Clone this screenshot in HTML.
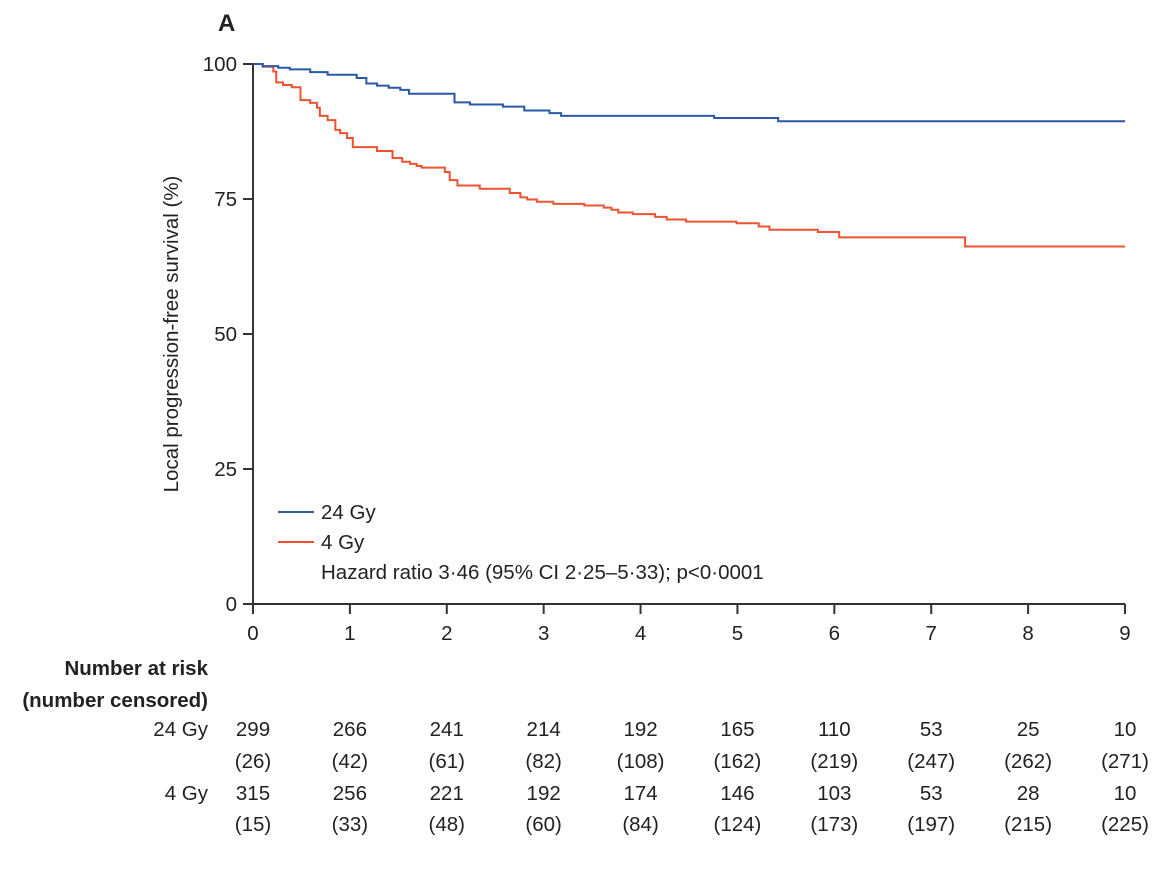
<!DOCTYPE html>
<html><head><meta charset="utf-8">
<style>
body{margin:0;background:#fff;}
svg text{font-family:"Liberation Sans",sans-serif;fill:#222;}
</style></head>
<body>
<svg id="chart" width="1170" height="868" viewBox="0 0 1170 868" xmlns="http://www.w3.org/2000/svg">
<text x="218" y="31" font-size="24" font-weight="bold">A</text>
<text transform="translate(178,334) rotate(-90)" text-anchor="middle" font-size="20.5">Local progression-free survival (%)</text>
<g id="axes"></g>
<g id="series"></g>
<g>
<line x1="278" y1="512" x2="314" y2="512" stroke="#2a59a6" stroke-width="2"/>
<text x="321" y="519" font-size="20.5">24 Gy</text>
<line x1="278" y1="542" x2="314" y2="542" stroke="#ee5230" stroke-width="2"/>
<text x="321" y="549" font-size="20.5">4 Gy</text>
<text x="321" y="579" font-size="20.5">Hazard ratio 3·46 (95% CI 2·25–5·33); p&lt;0·0001</text>
</g>
<text x="208" y="675" text-anchor="end" font-size="20.5" font-weight="bold">Number at risk</text>
<text x="208" y="707" text-anchor="end" font-size="20.5" font-weight="bold">(number censored)</text>
<g id="risk"></g>
</svg>
<script>
const xTicks=[0,1,2,3,4,5,6,7,8,9];
const yTicks=[0,25,50,75,100];
const yTickLabels=["0","25","50","75","100"];
const blueT=[0,0.10,0.26,0.38,0.59,0.77,1.07,1.17,1.28,1.40,1.52,1.61,2.08,2.24,2.58,2.80,3.06,3.18,4.76,5.42,9];
const blueS=[100,99.6,99.3,99.0,98.5,98.0,97.4,96.4,96.0,95.6,95.2,94.5,92.9,92.5,92.1,91.4,90.9,90.4,90.0,89.4,89.4];
const redT=[0,0.10,0.21,0.24,0.31,0.40,0.49,0.59,0.66,0.69,0.77,0.85,0.90,0.97,1.03,1.28,1.44,1.54,1.62,1.69,1.74,1.98,2.03,2.11,2.34,2.65,2.76,2.83,2.93,3.10,3.42,3.62,3.70,3.77,3.92,4.15,4.27,4.47,4.99,5.22,5.33,5.83,6.05,7.35,9];
const redS=[100,99.5,98.6,96.6,96.1,95.7,93.3,92.8,91.9,90.4,89.6,87.8,87.2,86.3,84.6,83.9,82.6,81.9,81.5,81.1,80.8,80.0,78.5,77.5,76.9,76.1,75.3,74.9,74.5,74.1,73.8,73.4,73.0,72.5,72.2,71.7,71.2,70.8,70.5,69.9,69.3,68.9,67.9,66.2,66.2];
const risk24=["299","266","241","214","192","165","110","53","25","10"];
const cens24=["(26)","(42)","(61)","(82)","(108)","(162)","(219)","(247)","(262)","(271)"];
const risk4=["315","256","221","192","174","146","103","53","28","10"];
const cens4=["(15)","(33)","(48)","(60)","(84)","(124)","(173)","(197)","(215)","(225)"];

const NS="http://www.w3.org/2000/svg";
const X0=253,X1=1125,Y0=604,Y1=64;
const FS=20.5;
const xs=t=>X0+(t/9)*(X1-X0);
const ys=v=>Y0-(v/100)*(Y0-Y1);
function mk(tag,attrs,parent,txt){const e=document.createElementNS(NS,tag);for(const k in attrs)e.setAttribute(k,attrs[k]);if(txt!==undefined)e.textContent=txt;parent.appendChild(e);return e;}
const axes=document.getElementById('axes');
let e=mk('line',{x1:X0,y1:Y1,x2:X0,y2:Y0,stroke:'#333','stroke-width':2},axes);


e=mk('line',{x1:X0,y1:Y0,x2:X1,y2:Y0,stroke:'#333','stroke-width':2},axes);


yTicks.forEach((v,i)=>{
  let l=mk('line',{x1:X0-10,y1:ys(v),x2:X0,y2:ys(v),stroke:'#333','stroke-width':2},axes);
  
  
  let t=mk('text',{x:X0-16,y:ys(v)+7,'text-anchor':'end','font-size':FS},axes,yTickLabels[i]);
  
  
});
xTicks.forEach(v=>{
  let l=mk('line',{x1:xs(v),y1:Y0,x2:xs(v),y2:Y0+10,stroke:'#333','stroke-width':2},axes);
  
  
  let t=mk('text',{x:xs(v),y:Y0+36,'text-anchor':'middle','font-size':FS},axes,String(v));
  
  
});
function stepPath(T,S){let d='M'+xs(T[0])+','+ys(S[0]);for(let i=1;i<T.length;i++){d+=' H'+xs(T[i])+' V'+ys(S[i]);}return d;}
const ser=document.getElementById('series');
let p=mk('path',{d:stepPath(redT,redS),fill:'none',stroke:'#ee5230','stroke-width':2},ser);


p=mk('path',{d:stepPath(blueT,blueS),fill:'none',stroke:'#2a59a6','stroke-width':2},ser);


const risk=document.getElementById('risk');
let lb=mk('text',{x:208,y:736,'text-anchor':'end','font-size':FS},risk,'24 Gy');


lb=mk('text',{x:208,y:800,'text-anchor':'end','font-size':FS},risk,'4 Gy');


const rows=[[risk24,736,'risk-24gy'],[cens24,768,'censored-24gy'],[risk4,800,'risk-4gy'],[cens4,831,'censored-4gy']];
rows.forEach(r=>{r[0].forEach((s,i)=>{
  let t=mk('text',{x:xs(xTicks[i]),y:r[1],'text-anchor':'middle','font-size':FS},risk,s);
  
  
});});
</script>
</body></html>
